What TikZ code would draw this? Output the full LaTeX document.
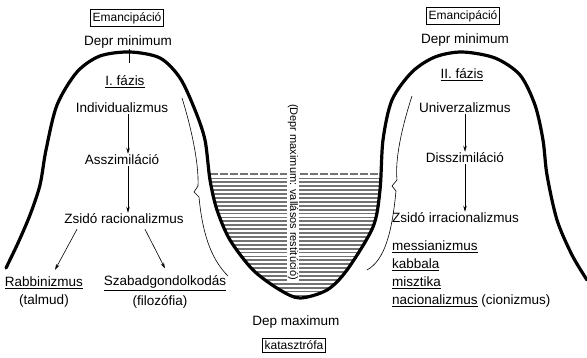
\documentclass[tikz,border=0pt]{standalone}
\usepackage{fontspec}
\setmainfont{Liberation Sans}
\usetikzlibrary{arrows.meta}
\tikzset{
  lbl/.style={font=\fontsize{13.5}{15}\selectfont, inner sep=1pt},
  boxlbl/.style={draw, line width=0.8pt, font=\fontsize{12}{13}\selectfont, inner sep=2.5pt},
  arr/.style={-{Stealth[length=6pt,width=3.5pt]}, line width=0.6pt},
  hump/.style={line width=3.2pt, line cap=round},
  thinline/.style={line width=0.6pt},
  water/.style={line width=1.8pt, black!55},
  vtext/.style={font=\fontsize{11}{12}\selectfont, rotate=-90, fill=white, inner sep=1pt}
}
\def\humppath{plot[smooth, tension=0.5] coordinates {(6,268) (18,243) (30,215) (40,185) (46,150) (57,105) (77,72) (100,56) (130,52) (160,58) (180,78) (195,110) (205,140) (210,180) (217,210) (230,240) (253,270) (280,290) (300,298) (327,290) (347,270) (373,227) (380,190) (383,140) (392,100) (412,72) (435,57) (462,52) (495,58) (520,75) (535,105) (543,140) (547,175) (557,220) (572,255) (587,280)}}
\begin{document}
\begin{tikzpicture}[x=1pt,y=-1pt]
\useasboundingbox (0,0) rectangle (587,358);
% water
\begin{scope}
  \clip \humppath -- (587,0) -- (0,0) -- cycle;
  \clip (200,172) rectangle (392,310);
  \foreach \y in {178.5,182.4,...,304} \draw[water] (200,\y) -- (392,\y);
  \draw[water, dashed, dash pattern=on 8pt off 2pt] (200,174) -- (392,174);
\end{scope}
% humps
\draw[hump] \humppath;
% left
\node[boxlbl] (em1) at (127,18) {Emancipáció};
\node[lbl] (dm1) at (128,42) {Depr minimum};
\node[lbl] (f1) at (125,82) {\underline{I. fázis}};
\node[lbl] (ind) at (122,108) {Individualizmus};
\node[lbl] (asz) at (122,160) {Asszimiláció};
\node[lbl] (zsr) at (124,219) {Zsidó racionalizmus};
\node[lbl] (rab) at (44,283) {\underline{Rabbinizmus}};
\node[lbl] (tal) at (44,301) {(talmud)};
\node[lbl] (szg) at (165,283) {\underline{Szabadgondolkodás}};
\node[lbl] (fil) at (160,302) {(filozófia)};
\draw[thinline] (dm1.south) ++(1,0) -- ++(0,14);
\draw[arr] ([xshift=6pt]ind.south) -- ([xshift=6pt]ind.south |- asz.north);
\draw[arr] ([xshift=6pt]asz.south) -- ([xshift=6pt]asz.south |- zsr.north);
\draw[arr] ([xshift=-47pt,yshift=-4pt]zsr.south) -- ([xshift=11pt,yshift=6pt]rab.north);
\draw[arr] ([xshift=21pt,yshift=-4pt]zsr.south) -- ([xshift=0pt,yshift=6pt]szg.north);
% left brace
\draw[thinline] (182,98) .. controls (192,130) and (199,165) .. (198,186) -- (194,192) -- (199,197) .. controls (203,240) and (214,262) .. (228,276);
% right
\node[boxlbl] (em2) at (463,16) {Emancipáció};
\node[lbl] (dm2) at (465,40) {Depr minimum};
\node[lbl] (f2) at (462,75) {\underline{II. fázis}};
\node[lbl] (uni) at (465,108) {Univerzalizmus};
\node[lbl] (dis) at (465,158) {Disszimiláció};
\node[lbl, anchor=west] (zsi) at (391,218) {Zsidó irracionalizmus};
\node[lbl, anchor=west] (mes) at (391,247) {\underline{messianizmus}};
\node[lbl, anchor=west] (kab) at (391,265) {\underline{kabbala}};
\node[lbl, anchor=west] (misz) at (391,283) {\underline{misztika}};
\node[lbl, anchor=west] (nac) at (391,301) {\underline{nacionalizmus} (cionizmus)};
\draw[arr] (uni.south) -- (uni.south |- dis.north);
\draw[arr] (dis.south) -- (dis.south |- zsi.north);
% right brace
\draw[thinline] (412,96) .. controls (401,130) and (395,160) .. (397,180) -- (392,186) -- (396,191) .. controls (392,232) and (385,260) .. (367,270);
% bottom
\node[lbl] (dmax) at (296,322) {Dep maximum};
\node[boxlbl] (kat) at (294,345) {katasztrófa};
\node[vtext] (vt) at (293,192) {(Depr maximum: vallásos restitúció)};
\end{tikzpicture}
\end{document}
